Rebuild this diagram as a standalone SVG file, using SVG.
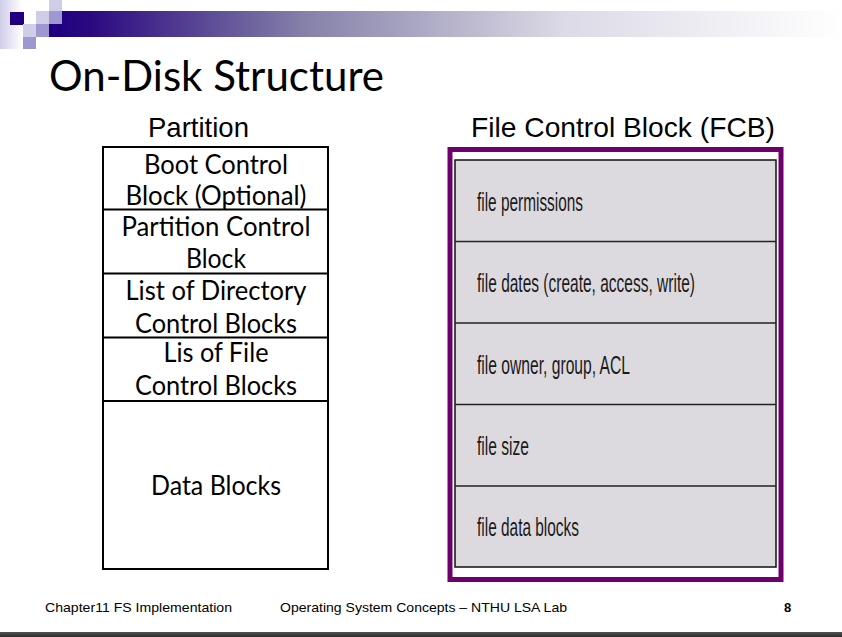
<svg xmlns="http://www.w3.org/2000/svg" width="842" height="637" viewBox="0 0 842 637">
  <defs>
    <linearGradient id="barGrad" x1="49" y1="0" x2="842" y2="0" gradientUnits="userSpaceOnUse">
      <stop offset="0" stop-color="#1e0080"/>
      <stop offset="0.05" stop-color="#2a0880"/>
      <stop offset="0.32" stop-color="#8480a8"/>
      <stop offset="0.65" stop-color="#dcdae6"/>
      <stop offset="1" stop-color="#ffffff"/>
    </linearGradient>
    <linearGradient id="fadeGrad" x1="0" y1="0" x2="1" y2="0">
      <stop offset="0" stop-color="#cfcce8"/>
      <stop offset="1" stop-color="#ffffff"/>
    </linearGradient>
    <linearGradient id="footGrad" x1="0" y1="0" x2="0" y2="1">
      <stop offset="0" stop-color="#555555"/>
      <stop offset="1" stop-color="#2a2a2a"/>
    </linearGradient>
  </defs>
  <style>
    .dark { fill: #1e0080; }
    .mid { fill: #9d98d0; }
    .light { fill: #d0cde8; }
    .title { font-family: Lato, "Open Sans", sans-serif; font-size: 42px; fill: #000; }
    .head { font-family: "Liberation Sans", Arial, sans-serif; font-size: 28px; fill: #000; text-anchor: middle; }
    .part { font-family: Lato, "Open Sans", sans-serif; font-size: 26px; fill: #000; text-anchor: middle; }
    .fcb { font-family: "Liberation Sans", Arial, sans-serif; font-size: 25px; fill: #1a1a1a; }
    .foot { font-family: "Liberation Sans", Arial, sans-serif; font-size: 13px; fill: #000; }
    .box { fill: #fff; stroke: #000; stroke-width: 2; }
    .div { stroke: #000; stroke-width: 2; }
    .fdiv { stroke: #222; stroke-width: 1.5; }
  </style>

  <rect width="842" height="637" fill="#fff"/>

  <!-- header decoration -->
  <g id="header">
    <rect x="0" y="0" width="22" height="49" fill="url(#fadeGrad)"/>
    <rect x="49" y="11" width="793" height="26" fill="url(#barGrad)"/>
    <rect class="dark" x="49" y="24" width="13" height="13"/>
    <rect class="dark" x="10" y="12" width="14" height="13"/>
    <rect class="light" x="49" y="0" width="13" height="11"/>
    <rect class="light" x="36" y="11" width="13" height="13"/>
    <rect class="mid" x="49" y="11" width="13" height="13"/>
    <rect class="light" x="23" y="24" width="13" height="13"/>
    <rect class="mid" x="36" y="24" width="13" height="13"/>
    <rect class="mid" x="23" y="37" width="13" height="12"/>
  </g>

  <text class="title" x="49" y="91" textLength="335" lengthAdjust="spacingAndGlyphs">On-Disk Structure</text>

  <!-- partition layout -->
  <g id="partition">
    <text class="head" x="198.5" y="137" textLength="101" lengthAdjust="spacingAndGlyphs">Partition</text>
    <rect class="box" x="103" y="147" width="225" height="422"/>
    <line class="div" x1="103" y1="209.5" x2="328" y2="209.5"/>
    <line class="div" x1="103" y1="273.5" x2="328" y2="273.5"/>
    <line class="div" x1="103" y1="337.5" x2="328" y2="337.5"/>
    <line class="div" x1="103" y1="401" x2="328" y2="401"/>
  </g>
  <g id="boot-control">
    <text class="part" x="216" y="174" textLength="144" lengthAdjust="spacingAndGlyphs">Boot Control</text>
    <text class="part" x="216" y="205" textLength="181" lengthAdjust="spacingAndGlyphs">Block (Optional)</text>
  </g>
  <g id="partition-control">
    <text class="part" x="216" y="236" textLength="189" lengthAdjust="spacingAndGlyphs">Partition Control</text>
    <text class="part" x="216" y="268" textLength="60" lengthAdjust="spacingAndGlyphs">Block</text>
  </g>
  <g id="directory-control">
    <text class="part" x="216" y="300" textLength="181" lengthAdjust="spacingAndGlyphs">List of Directory</text>
    <text class="part" x="216" y="333" textLength="162" lengthAdjust="spacingAndGlyphs">Control Blocks</text>
  </g>
  <g id="file-control">
    <text class="part" x="216" y="362" textLength="105" lengthAdjust="spacingAndGlyphs">Lis of File</text>
    <text class="part" x="216" y="395" textLength="162" lengthAdjust="spacingAndGlyphs">Control Blocks</text>
  </g>
  <g id="data-blocks">
    <text class="part" x="216" y="495" textLength="130" lengthAdjust="spacingAndGlyphs">Data Blocks</text>
  </g>

  <!-- file control block -->
  <g id="fcb">
    <text class="head" x="623" y="137" textLength="304" lengthAdjust="spacingAndGlyphs">File Control Block (FCB)</text>
    <rect x="450" y="149.5" width="331" height="430" fill="#fff" stroke="#6e006e" stroke-width="5"/>
    <rect x="455" y="160" width="321" height="407" fill="#dddadf" stroke="#111" stroke-width="1.5"/>
    <line class="fdiv" x1="455" y1="241.5" x2="776" y2="241.5"/>
    <line class="fdiv" x1="455" y1="323" x2="776" y2="323"/>
    <line class="fdiv" x1="455" y1="404.5" x2="776" y2="404.5"/>
    <line class="fdiv" x1="455" y1="486" x2="776" y2="486"/>
    <text class="fcb" x="477" y="211" textLength="106" lengthAdjust="spacingAndGlyphs">file permissions</text>
    <text class="fcb" x="477" y="292" textLength="218" lengthAdjust="spacingAndGlyphs">file dates (create, access, write)</text>
    <text class="fcb" x="477" y="374" textLength="153" lengthAdjust="spacingAndGlyphs">file owner, group, ACL</text>
    <text class="fcb" x="477" y="455" textLength="52" lengthAdjust="spacingAndGlyphs">file size</text>
    <text class="fcb" x="477" y="536" textLength="102" lengthAdjust="spacingAndGlyphs">file data blocks</text>
  </g>

  <!-- footer -->
  <g id="footer">
    <text class="foot" x="45" y="612" textLength="187" lengthAdjust="spacingAndGlyphs">Chapter11 FS Implementation</text>
    <text class="foot" x="280" y="612" textLength="287" lengthAdjust="spacingAndGlyphs">Operating System Concepts – NTHU LSA Lab</text>
    <text class="foot" x="784" y="612" font-weight="bold">8</text>
    <rect x="0" y="632" width="842" height="5" fill="url(#footGrad)"/>
  </g>
</svg>
